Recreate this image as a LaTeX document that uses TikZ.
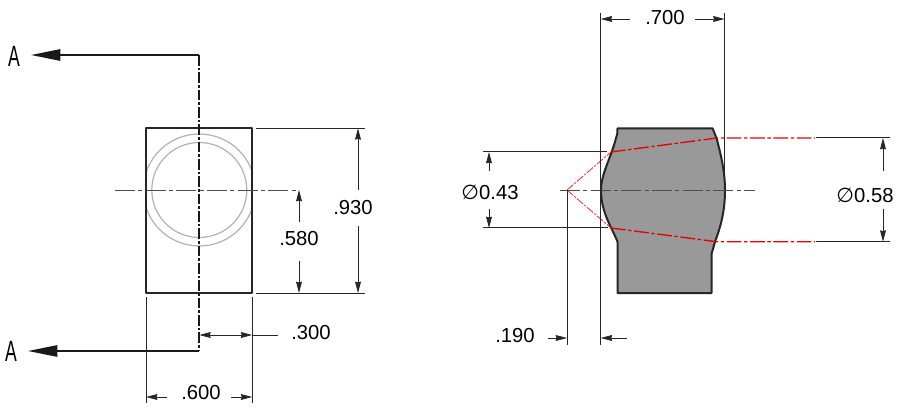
\documentclass[tikz,border=0pt]{standalone}
\usepackage{fontspec}
\setmainfont{Liberation Sans}
\newfontfamily\symfont{DejaVu Sans}
\usetikzlibrary{arrows.meta}
\tikzset{
    dimtip/.tip={Stealth[length=8.5pt,width=4.4pt,inset=0.6pt]},
    dimline/.style={line width=0.65pt,draw=black!85},
    extline/.style={line width=0.75pt,draw=black!85},
    outline/.style={line width=1.5pt,draw=black!85,line join=round},
    centerline/.style={line width=0.7pt,draw=black!70,dash pattern=on 15pt off 2.5pt on 3pt off 2.5pt},
    cutline/.style={line width=1.3pt,draw=black!90,dash pattern=on 8pt off 1.5pt on 2pt off 1.5pt},
    sectionline/.style={line width=1.3pt,draw=black!90,-{Stealth[length=22pt,width=8.5pt,inset=0pt]}},
    hiddenline/.style={line width=1pt,draw=red!90!black,dash pattern=on 11pt off 2pt on 2.5pt off 2pt},
    coneline/.style={line width=0.6pt,draw=red!85,dash pattern=on 6pt off 1.2pt on 1.5pt off 1.2pt},
    dimtext/.style={font=\fontsize{15.2pt}{17pt}\selectfont,inner sep=0pt},
    viewname/.style={font=\fontsize{22pt}{24pt}\selectfont,xscale=0.6,inner sep=0pt}
}
\newcommand{\dia}{{\symfont\char"2205}}
\begin{document}
\begin{tikzpicture}[x=0.75pt,y=-0.75pt]
    \useasboundingbox (0, 0) rectangle (902, 413);

    \coordinate (TL) at (146, 128.3);
    \coordinate (TR) at (252.2, 128.3);
    \coordinate (BR) at (252.2, 293);
    \coordinate (BL) at (146, 293);
    \coordinate (O) at (199.3, 190);
    \coordinate (cutA) at (199.3, 55);
    \coordinate (cutB) at (199.3, 351);

    \begin{scope}
        \clip (TL) rectangle (BR);
        \draw[line width=0.9pt,black!30] (O) circle[radius=56];
        \draw[line width=0.9pt,black!30] (O) circle[radius=47.5];
    \end{scope}
    \draw[outline] (TL) -- (TR) -- (BR) -- (BL) -- cycle;

    \draw[cutline] (cutA) -- (cutB);
    \draw[sectionline] (cutA) -- (31, 55);
    \draw[sectionline] (cutB) -- (28, 351);
    \node[viewname] (nameA) at (14, 56) {A};
    \node[viewname] (nameB) at (11, 351) {A};

    \draw[centerline] (115, 190) -- (299, 190);

    \draw[extline] (256, 128.3) -- (365, 128.3);
    \draw[extline] (256, 293) -- (365, 293);
    \draw[extline] (146, 297) -- (146, 403);
    \draw[extline] (252.2, 297) -- (252.2, 403);

    \node[dimtext] (d930) at (353, 208) {.930};
    \draw[dimline,-{dimtip}] (358, 190) -- (358, 128.3);
    \draw[dimline,-{dimtip}] (358, 226) -- (358, 293);

    \node[dimtext] (d580) at (299, 239) {.580};
    \draw[dimline,-{dimtip}] (299, 222) -- (299, 190);
    \draw[dimline,-{dimtip}] (299, 261) -- (299, 293);

    \node[dimtext] (d300) at (311, 333) {.300};
    \draw[dimline,{dimtip}-{dimtip}] (199.3, 335) -- (252.2, 335);
    \draw[dimline] (252.2, 335) -- (278, 335);

    \node[dimtext] (d600) at (201, 393) {.600};
    \draw[dimline,-{dimtip}] (167, 397) -- (146, 397);
    \draw[dimline,-{dimtip}] (231, 397) -- (252.2, 397);

    \coordinate (P1) at (617.5, 128.3);
    \coordinate (P2) at (712.5, 128.3);
    \coordinate (P3) at (711.5, 293);
    \coordinate (P4) at (617.5, 293);
    \coordinate (F1) at (611, 152);
    \coordinate (F2) at (611, 228);
    \coordinate (G1) at (716.5, 138);
    \coordinate (G2) at (716.5, 241.7);
    \coordinate (apex) at (567, 190);

    \draw[outline,fill=black!40] (P1) -- (P2) -- (G1)
        .. controls (721, 155) and (725, 172) .. (725, 190)
        .. controls (725, 210) and (721, 226) .. (715, 241.7)
        -- (711.5, 254) -- (P3) -- (P4) -- (617.5, 241.7)
        .. controls (611, 226) and (601, 212) .. (601, 190)
        .. controls (601, 174) and (611, 158) .. (616, 138)
        .. controls (617.5, 134) and (617.5, 132) .. (P1) -- cycle;

    \draw[centerline] (560, 190) -- (755, 190);

    \draw[coneline] (apex) -- (F1);
    \draw[coneline] (apex) -- (F2);
    \draw[hiddenline] (F1) -- (G1) -- (815, 138);
    \draw[hiddenline] (F2) -- (G2) -- (815, 241.7);

    \draw[extline] (600.7, 13) -- (600.7, 345);
    \draw[extline] (724.5, 13) -- (724.5, 190);
    \draw[extline] (567, 190) -- (567, 345);
    \draw[extline] (483, 152) -- (607, 152);
    \draw[extline] (483, 228) -- (608, 228);
    \draw[extline] (816, 138) -- (890, 138);
    \draw[extline] (816, 241.7) -- (890, 241.7);

    \node[dimtext] (d700) at (665, 18) {.700};
    \draw[dimline,-{dimtip}] (630, 19) -- (600.7, 19);
    \draw[dimline,-{dimtip}] (695, 19) -- (724.5, 19);

    \node[dimtext] (d190) at (515, 336) {.190};
    \draw[dimline,-{dimtip}] (548, 338) -- (567, 338);
    \draw[dimline,-{dimtip}] (627, 338) -- (600.7, 338);

    \node[dimtext] (d043) at (490, 192) {\dia 0.43};
    \draw[dimline,-{dimtip}] (489, 171) -- (489, 152);
    \draw[dimline,-{dimtip}] (489, 209) -- (489, 228);

    \node[dimtext] (d058) at (865, 195) {\dia 0.58};
    \draw[dimline,-{dimtip}] (883, 171) -- (883, 138);
    \draw[dimline,-{dimtip}] (883, 209) -- (883, 241.7);
\end{tikzpicture}
\end{document}
